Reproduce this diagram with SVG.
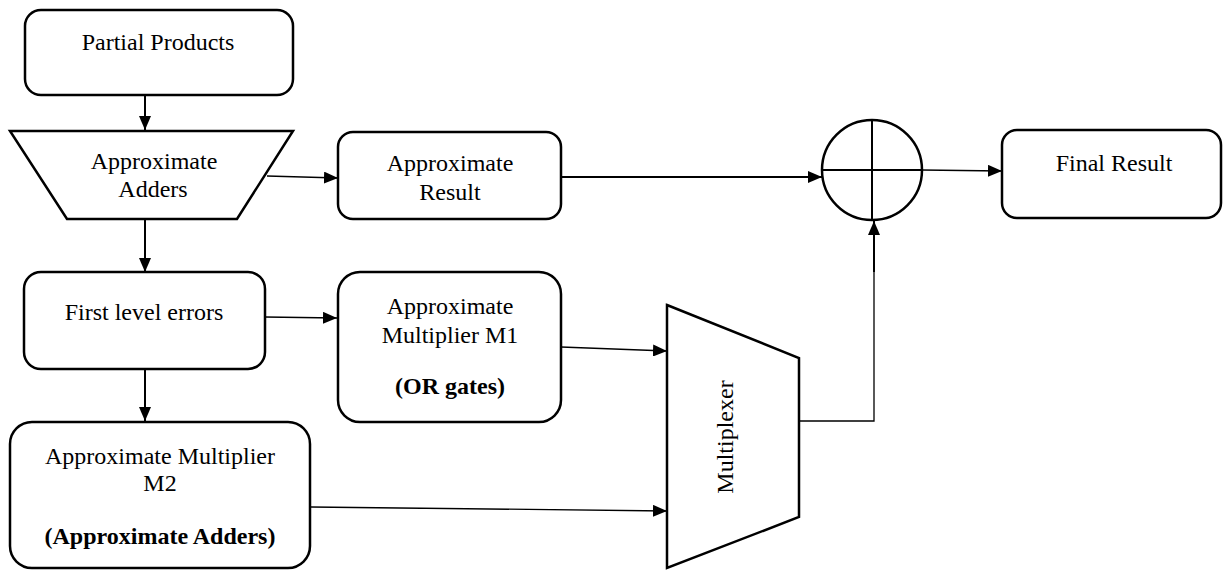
<svg xmlns="http://www.w3.org/2000/svg" width="1223" height="571" viewBox="0 0 1223 571">
<defs>
<marker id="ah" viewBox="0 0 14 12" refX="14" refY="6" markerWidth="14" markerHeight="12" markerUnits="userSpaceOnUse" orient="auto">
<path d="M0,0 L14,6 L0,12 Z" fill="#000"/>
</marker>
<style>
.box{fill:#fff;stroke:#000;stroke-width:2.5}
.t{font-family:"Liberation Serif","Times New Roman",serif;font-size:24px;fill:#000;text-anchor:middle}
.b{font-weight:bold}
.c{fill:none;stroke:#000;stroke-width:1.3}
.c2{fill:none;stroke:#000;stroke-width:2}
</style>
</defs>
<rect width="1223" height="571" fill="#fff"/>
<g id="connectors">
<line class="c2" x1="145" y1="95" x2="145" y2="130" marker-end="url(#ah)"/>
<line class="c" x1="267" y1="176" x2="338" y2="178" marker-end="url(#ah)"/>
<line class="c2" x1="561" y1="177" x2="822" y2="177" marker-end="url(#ah)"/>
<line class="c" x1="922" y1="170" x2="1002" y2="171" marker-end="url(#ah)"/>
<line class="c2" x1="145" y1="219" x2="145" y2="272" marker-end="url(#ah)"/>
<line class="c" x1="265" y1="317" x2="337" y2="318" marker-end="url(#ah)"/>
<line class="c2" x1="145" y1="369" x2="145" y2="421" marker-end="url(#ah)"/>
<line class="c" x1="561" y1="347" x2="667" y2="351" marker-end="url(#ah)"/>
<line class="c" x1="311" y1="507" x2="667" y2="511" marker-end="url(#ah)"/>
<polyline class="c" points="799,421 874,421 874,268"/>
<line class="c2" x1="874" y1="272" x2="874" y2="221" marker-end="url(#ah)"/>
</g>
<g id="partial-products">
<rect class="box" x="25" y="10" width="268" height="85" rx="16"/>
<text class="t" x="158" y="50">Partial Products</text>
</g>
<g id="approximate-adders">
<polygon class="box" points="10,131 293,131 237,219 67,219"/>
<text class="t" x="154" y="169">Approximate</text>
<text class="t" x="153" y="197">Adders</text>
</g>
<g id="approximate-result">
<rect class="box" x="338" y="132" width="223" height="87" rx="15"/>
<text class="t" x="450" y="171">Approximate</text>
<text class="t" x="450" y="200">Result</text>
</g>
<g id="adder">
<circle class="box" cx="872" cy="170" r="50"/>
<line class="c2" x1="822" y1="170" x2="922" y2="170"/>
<line class="c2" x1="872" y1="120" x2="872" y2="220"/>
</g>
<g id="final-result">
<rect class="box" x="1002" y="130" width="219" height="88" rx="15"/>
<text class="t" x="1114" y="171">Final Result</text>
</g>
<g id="first-level-errors">
<rect class="box" x="24" y="272" width="241" height="97" rx="17"/>
<text class="t" x="144" y="320">First level errors</text>
</g>
<g id="multiplier-m1">
<rect class="box" x="338" y="272" width="223" height="150" rx="22"/>
<text class="t" x="450" y="314">Approximate</text>
<text class="t" x="450" y="343">Multiplier M1</text>
<text class="t b" x="450" y="394">(OR gates)</text>
</g>
<g id="multiplier-m2">
<rect class="box" x="10" y="422" width="300" height="146" rx="22"/>
<text class="t" x="160" y="464">Approximate Multiplier</text>
<text class="t" x="160" y="491">M2</text>
<text class="t b" x="160" y="544">(Approximate Adders)</text>
</g>
<g id="multiplexer">
<polygon class="box" points="667,305 799,358 799,517 667,568"/>
<text class="t" transform="translate(733,437) rotate(-90)">Multiplexer</text>
</g>
</svg>
